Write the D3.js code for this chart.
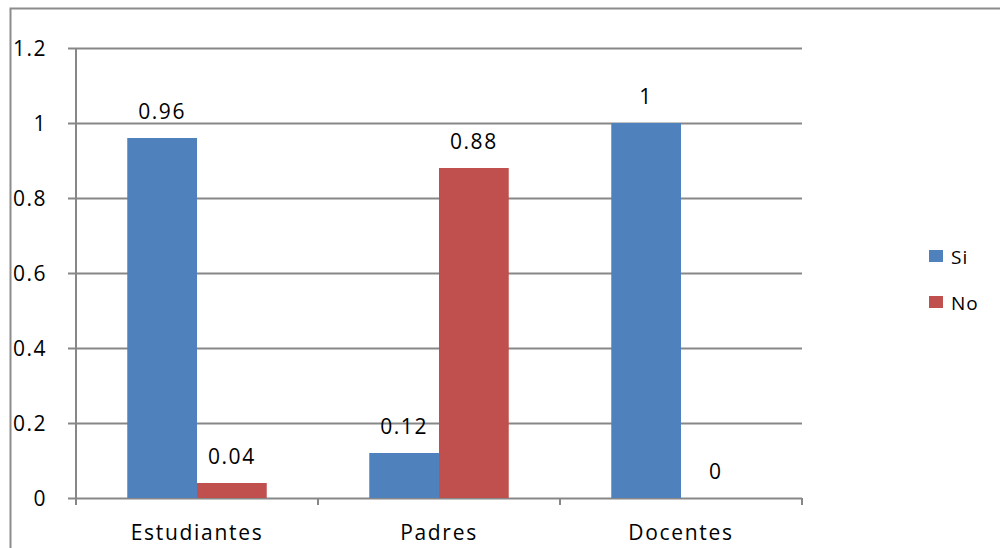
<!DOCTYPE html>
<html>
<head>
<meta charset="utf-8">
<script src="https://cdn.jsdelivr.net/npm/d3@7"></script>
<style>
  html, body { margin: 0; padding: 0; background: #fff; }
  svg { display: block; font-family: "Open Sans", sans-serif; }
</style>
</head>
<body>
<div id="chart"></div>
<script>
// Respuestas por grupo
const categories = ["Estudiantes", "Padres", "Docentes"];
const seriesNames = ["Si", "No"];
const siValues = [0.96, 0.12, 1];
const noValues = [0.04, 0.88, 0];
const yTicks = [0, 0.2, 0.4, 0.6, 0.8, 1, 1.2];
const colors = ["#4F81BD", "#C0504D"];

const width = 1000, height = 548;
const plot = { left: 76, right: 802, top: 48, bottom: 498 };

const svg = d3.select("#chart").append("svg")
  .attr("width", width).attr("height", height);

// outer chart frame (only top and left edges fall inside the view)
svg.append("path")
  .attr("d", `M10.5,${height} V8.5 H${width}`)
  .attr("fill", "none").attr("stroke", "#8c8c8c").attr("stroke-width", 2);

const y = d3.scaleLinear().domain([0, 1.2]).range([plot.bottom, plot.top]);
const x0 = d3.scaleBand().domain(categories).range([plot.left, plot.right]);
const x1 = d3.scaleBand().domain(seriesNames)
  .range([0, x0.bandwidth()]).paddingOuter(0.735);

// horizontal gridlines with tick stubs on the left
const gy = svg.append("g").attr("transform", `translate(${plot.right},0)`)
  .call(d3.axisLeft(y).tickValues(yTicks).tickSize(plot.right - plot.left + 8).tickFormat(""));
gy.select(".domain").remove();
gy.selectAll("line").attr("stroke", "#878787").attr("stroke-width", 2);

// y axis line
svg.append("line")
  .attr("x1", plot.left).attr("x2", plot.left)
  .attr("y1", plot.top).attr("y2", plot.bottom + 7)
  .attr("stroke", "#878787").attr("stroke-width", 2);

// y tick labels
svg.append("g").selectAll("text").data(yTicks).join("text")
  .attr("x", 47).attr("y", d => y(d))
  .attr("dy", "0.36em").attr("text-anchor", "end")
  .attr("font-size", 21).attr("letter-spacing", 1.5).attr("fill", "#000")
  .text(d => d);

// category tick marks on the baseline
const catEdges = categories.map(c => x0(c)).concat([plot.right]);
svg.append("g").selectAll("line").data(catEdges).join("line")
  .attr("x1", d => d).attr("x2", d => d)
  .attr("y1", plot.bottom).attr("y2", plot.bottom + 7)
  .attr("stroke", "#878787").attr("stroke-width", 2);

// bars
const rows = categories.map((c, i) => ({ cat: c, vals: [siValues[i], noValues[i]] }));
const groups = svg.append("g").selectAll("g").data(rows).join("g")
  .attr("transform", d => `translate(${x0(d.cat)},0)`);

groups.selectAll("rect").data(d => d.vals.map((v, j) => ({ v, s: seriesNames[j], j })))
  .join("rect")
  .attr("x", d => x1(d.s))
  .attr("width", x1.bandwidth())
  .attr("y", d => y(d.v))
  .attr("height", d => y(0) - y(d.v))
  .attr("fill", d => colors[d.j]);

// value labels
groups.selectAll("text").data(d => d.vals.map((v, j) => ({ v, s: seriesNames[j] })))
  .join("text")
  .attr("x", d => x1(d.s) + x1.bandwidth() / 2)
  .attr("y", d => y(d.v) - 19)
  .attr("text-anchor", "middle")
  .attr("font-size", 21).attr("letter-spacing", 1.5).attr("fill", "#000")
  .text(d => d.v);

// category labels
svg.append("g").selectAll("text").data(categories).join("text")
  .attr("x", d => x0(d) + x0.bandwidth() / 2)
  .attr("y", 540)
  .attr("text-anchor", "middle")
  .attr("font-size", 21).attr("letter-spacing", 1.7).attr("fill", "#000")
  .text(d => d);

// legend
const legend = svg.append("g").selectAll("g").data(seriesNames).join("g")
  .attr("transform", (d, i) => `translate(929,${250 + i * 46})`);
legend.append("rect").attr("width", 14).attr("height", 12)
  .attr("fill", (d, i) => colors[i]);
legend.append("text").attr("x", 22).attr("y", 14)
  .attr("font-size", 19).attr("letter-spacing", 1).attr("fill", "#000")
  .text(d => d);
</script>
</body>
</html>
